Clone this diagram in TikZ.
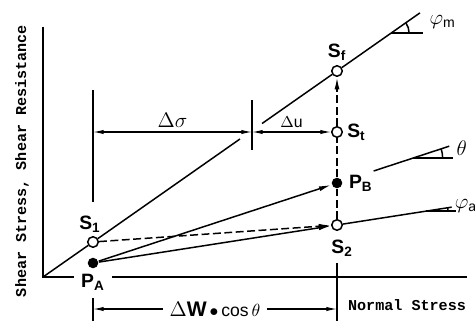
\documentclass[tikz,border=0pt]{standalone}
\usepackage{fontspec}
\setmainfont{Liberation Sans}
\setsansfont{Liberation Sans}
\setmonofont{Liberation Mono}
\usetikzlibrary{positioning, arrows.meta, calc}

\newcommand{\lbl}[2]{#1\textsubscript{#2}}

\begin{document}
\begin{tikzpicture}[x=0.02cm, y=0.02cm, line width=0.85pt,
	opencirc/.style={circle, draw, fill=white, inner sep=0pt, minimum size=6pt},
	fulldot/.style={circle, fill, inner sep=0pt, minimum size=6pt},
	lab/.style={font=\fontsize{11}{13}\selectfont\bfseries, inner sep=1pt},
	greek/.style={font=\fontsize{12}{14}\selectfont, inner sep=1pt},
	axislab/.style={font=\ttfamily\bfseries\fontsize{8.6}{10}\selectfont},
	dashline/.style={dash pattern=on 4.5pt off 2pt},
	tip/.style={-{Latex[length=7pt,width=2.8pt]}},
	dimen/.style={{Latex[length=6pt,width=2.4pt]}-{Latex[length=6pt,width=2.4pt]}, line width=0.6pt}]
	
	\useasboundingbox (-43,-44) rectangle (432,277);
	
	% Achsen
	\coordinate (O) at (0,0);
	\coordinate (Ytop) at (0,250);
	\coordinate (Xend) at (424,0);
	\draw (Ytop) -- (O) -- (Xend);
	\node[axislab, rotate=90] (ylab) at (-21,116) {Shear Stress, Shear Resistance};
	\node[axislab] (xlab) at (364,-28) {Normal Stress};
	
	% Spannungspunkte
	\node[opencirc] (S1) at (50,35) {};
	\node[fulldot] (PA) at (50,14) {};
	\node[opencirc] (Sf) at (294,206) {};
	\node[opencirc] (St) at (294,145) {};
	\node[fulldot] (PB) at (294,94) {};
	\node[opencirc] (S2) at (294,52) {};
	
	\node[lab] at (47,53) {\lbl{S}{1}};
	\node[lab, fill=white, inner xsep=4pt] at (50,-5) {\lbl{P}{A}};
	\node[lab] at (294,225) {\lbl{S}{f}};
	\node[lab, right=1pt of St] {\lbl{S}{t}};
	\node[lab, right=2pt of PB] {\lbl{P}{B}};
	\node[lab] at (299,29) {\lbl{S}{2}};
	
	% Bruchgerade phi_m
	\coordinate (G1) at ($(O)!0.67!(Sf)$);
	\coordinate (G2) at ($(O)!0.745!(Sf)$);
	\coordinate (Mend) at ($(O)!1.282!(Sf)$);
	\coordinate (Mc) at ($(O)!1.184!(Sf)$);
	\draw (O) -- (S1) -- (G1);
	\draw (G2) -- (Sf) -- (Mend);
	\draw (Mc) -- ++(32,0);
	\draw ($(Mc)+(18,0)$) arc (0:35:18);
	\node[greek, anchor=west] at (384,255) {$\varphi_{\mathsf{m}}$};
	
	% Gerade theta
	\draw[tip] (PA) -- (PB);
	\coordinate (T1) at ($(PA)!1.15!(PB)$);
	\coordinate (T2) at ($(PA)!1.46!(PB)$);
	\coordinate (Tc) at ($(PA)!1.31!(PB)$);
	\draw (T1) -- (T2);
	\draw (Tc) -- ++(40,0);
	\draw ($(Tc)+(30,0)$) arc (0:18:30);
	\node[greek, anchor=west] at (411,129) {$\theta$};
	
	% Gerade phi_a
	\draw[tip] (PA) -- (S2);
	\coordinate (A2) at ($(PA)!1.47!(S2)$);
	\coordinate (Ac) at ($(PA)!1.365!(S2)$);
	\draw (S2) -- (A2);
	\draw (Ac) -- ++(30,0);
	\draw ($(Ac)+(22,0)$) arc (0:9:22);
	\node[greek, anchor=west, inner sep=0pt] at (411,71) {$\varphi_{\mathsf{a}}$};
	
	% Spannungspfade
	\draw[dashline, tip] (S1) -- (S2);
	\draw[dashline] (S2) -- (PB) -- (St);
	\draw[dashline, tip] (St) -- (Sf);
	
	% Masslinien
	\coordinate (L1) at (50,187);
	\coordinate (L2) at (50,75);
	\coordinate (M1) at (209,177);
	\coordinate (M2) at (209,127);
	\draw[line width=0.6pt] (L1) -- (L2);
	\draw[line width=0.6pt] (M1) -- (M2);
	\draw[dimen] (50,145) -- node[greek, above=1pt] {$\Delta\sigma$} (209,145);
	\draw[dimen] (209,145) -- node[greek, above=1pt, font=\fontsize{9}{10}\selectfont] {$\Delta$u} (St);
	
	\draw[line width=0.6pt] (50,-21) -- (50,-44);
	\draw[line width=0.6pt] (294,14) -- (294,-44);
	\draw[dimen] (50,-32) -- node[greek, fill=white, inner xsep=4pt, inner ysep=0pt, font=\fontsize{10}{11}\selectfont] {{\fontsize{12}{12}\selectfont$\Delta$\textbf{W}}\,$\bullet$\,cos\,$\theta$} (294,-32);
	
\end{tikzpicture}
\end{document}
